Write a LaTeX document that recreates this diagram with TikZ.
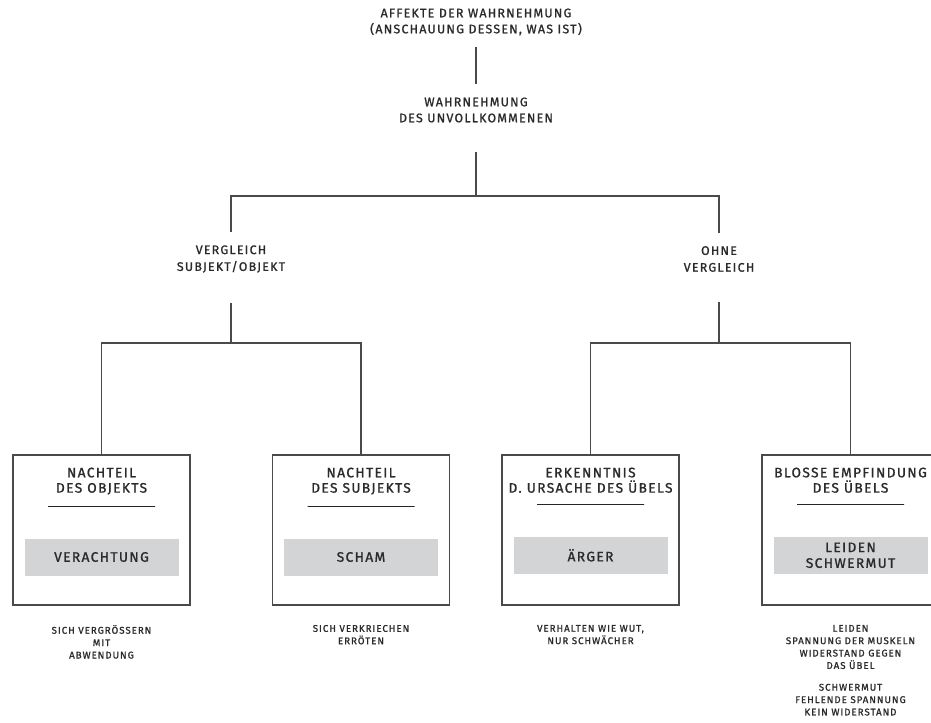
\documentclass[tikz,border=0pt]{standalone}
\usepackage{fontspec}
\setmainfont{Fira Sans}[LetterSpace=10, FakeBold=1.2]
\usepackage{xcolor}
\usetikzlibrary{positioning}

\definecolor{inkgray}{HTML}{2A2A2A}
\definecolor{linegray}{HTML}{4A4A4A}
\definecolor{affectfill}{HTML}{D3D4D6}

\begin{document}
\begin{tikzpicture}[x=0.75pt, y=-0.75pt,
    label/.style={align=center, inner sep=0pt, outer sep=0pt, text=inkgray, font=\fontsize{9.3}{12}\selectfont},
    branch/.style={label, font=\fontsize{9.3}{12.6}\selectfont},
    boxtext/.style={label, font=\fontsize{10.3}{11.5}\selectfont},
    note/.style={align=center, inner sep=0pt, outer sep=0pt, text=inkgray, font=\fontsize{7.3}{9.3}\selectfont},
    link/.style={draw=linegray, line width=0.9pt},
    affectbox/.style={draw=linegray, line width=1.1pt, minimum width=132.75pt, minimum height=112.5pt, inner sep=0pt, outer sep=0pt},
    headrule/.style={draw=black!85, line width=0.5pt, minimum width=80.25pt, minimum height=0pt, inner sep=0pt, outer sep=0pt},
    affectname/.style={boxtext, font=\fontsize{10.3}{11.8}\selectfont, fill=affectfill, minimum width=115.5pt, minimum height=27.75pt}]
    \useasboundingbox (0,0) rectangle (931,722);

    % top of the tree
    \node (affekte) [label] at (476,22) {AFFEKTE DER WAHRNEHMUNG\\(ANSCHAUUNG DESSEN, WAS IST)};
    \node (wahr) [label] at (476,110) {WAHRNEHMUNG\\DES UNVOLLKOMMENEN};
    \node (vergl) [branch] at (231,259) {VERGLEICH\\SUBJEKT/OBJEKT};
    \node (ohne) [branch] at (719,259) {OHNE\\VERGLEICH};
    \coordinate (fork0) at (476,196);
    \coordinate (fork1) at (231,343);
    \coordinate (fork2) at (719,343);

    % the four affects
    \node (objekt) [affectbox] at (101.5,530) {};
    \node (objektHead) [boxtext, below=9.5pt of objekt.north] {NACHTEIL\\DES OBJEKTS};
    \node (objektRule) [headrule, below=9pt of objektHead] {};
    \node (objektAffect) [affectname, below=24pt of objektRule] {VERACHTUNG};
    \node (objektNote) [note, below=15pt of objekt] {SICH VERGRÖSSERN\\MIT\\ABWENDUNG};

    \node (subjekt) [affectbox] at (361,530) {};
    \node (subjektHead) [boxtext, below=9.5pt of subjekt.north] {NACHTEIL\\DES SUBJEKTS};
    \node (subjektRule) [headrule, below=9pt of subjektHead] {};
    \node (subjektAffect) [affectname, below=24pt of subjektRule] {SCHAM};
    \node (subjektNote) [note, below=15pt of subjekt] {SICH VERKRIECHEN\\ERRÖTEN};

    \node (ursache) [affectbox] at (590.5,530) {};
    \node (ursacheHead) [boxtext, below=9.5pt of ursache.north] {ERKENNTNIS\\D. URSACHE DES ÜBELS};
    \node (ursacheRule) [headrule, below=9pt of ursacheHead] {};
    \node (ursacheAffect) [affectname, below=24pt of ursacheRule] {ÄRGER};
    \node (ursacheNote) [note, below=15pt of ursache] {VERHALTEN WIE WUT,\\NUR SCHWÄCHER};

    \node (empf) [affectbox] at (850.5,530) {};
    \node (empfHead) [boxtext, below=9.5pt of empf.north] {BLOSSE EMPFINDUNG\\DES ÜBELS};
    \node (empfRule) [headrule, below=9pt of empfHead] {};
    \node (empfAffect) [affectname, below=24pt of empfRule] {LEIDEN\\SCHWERMUT};
    \node (empfNote) [note, below=15pt of empf] {LEIDEN\\SPANNUNG DER MUSKELN\\WIDERSTAND GEGEN\\DAS ÜBEL\\[7pt]SCHWERMUT\\FEHLENDE SPANNUNG\\KEIN WIDERSTAND};

    % connectors
    \draw [link, shorten <=8.4pt, shorten >=10.5pt] (affekte) -- (wahr);
    \draw [link, shorten <=22.5pt] (wahr) -- (fork0);
    \draw [link, shorten >=10pt] (fork0) -| (vergl);
    \draw [link, shorten >=10pt] (fork0) -| (ohne);
    \draw [link, shorten <=22.5pt] (vergl) -- (fork1);
    \draw [link, shorten <=22.5pt] (ohne) -- (fork2);
    \draw [link] (fork1) -| (objekt);
    \draw [link] (fork1) -| (subjekt);
    \draw [link] (fork2) -| (ursache);
    \draw [link] (fork2) -| (empf);

\end{tikzpicture}
\end{document}
